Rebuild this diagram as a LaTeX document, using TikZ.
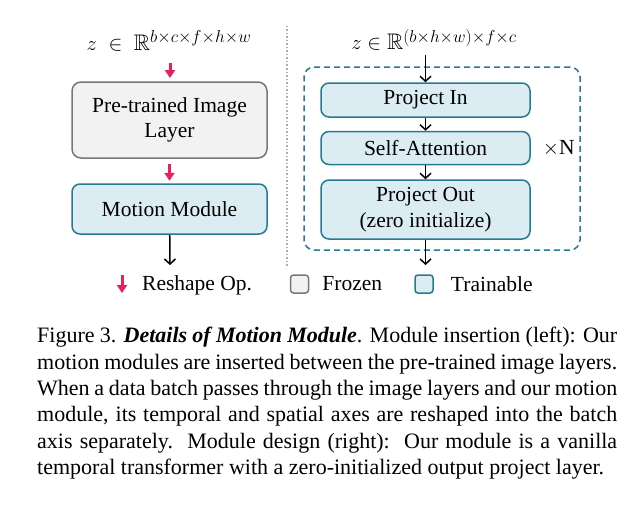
\documentclass[tikz,border=0pt]{standalone}
\usepackage{amsmath,amssymb}
\usepackage{fontspec}
\setmainfont{Liberation Serif}
\usetikzlibrary{arrows.meta,positioning,calc}
\DeclareMathSizes{22.5}{22.5}{17.5}{13}
\definecolor{frozenfill}{RGB}{242,242,242}
\definecolor{frozenline}{RGB}{120,120,120}
\definecolor{trainfill}{RGB}{219,237,243}
\definecolor{trainline}{RGB}{38,122,145}
\definecolor{reshapered}{RGB}{232,34,88}

\begin{document}
\begin{tikzpicture}[x=1pt, y=-1pt,
  frozen/.style={draw=frozenline, fill=frozenfill, line width=1.5pt, rounded corners=9pt,
                 align=center, font=\fontsize{21.5}{25.5}\selectfont},
  train/.style={draw=trainline, fill=trainfill, line width=1.5pt, rounded corners=8pt,
                align=center, font=\fontsize{21.5}{25.5}\selectfont},
  swatch/.style={draw=#1line, fill=#1fill, line width=1.5pt, rounded corners=3pt,
                 minimum size=18pt, inner sep=0pt},
  lbl/.style={font=\fontsize{21.5}{25.5}\selectfont, inner sep=0pt},
  dims/.style={font=\fontsize{22.5}{27}\selectfont, inner sep=0pt},
  reshape/.style={-{Triangle[length=8pt,width=10pt]}, reshapered, line width=3pt},
  arr/.style={-{Straight Barb[length=5pt,width=11pt]}, line width=1.5pt}
]
\useasboundingbox (0,0) rectangle (642,511);

% left: module insertion
\node[dims] (zl) at (169,41)
  {$z\;\in\;\mathbb{R}^{b\times c\times f\times h\times w}$};
\node[frozen, minimum width=195pt, minimum height=76pt] (pre) at (169.5,120)
  {Pre-trained Image\\Layer};
\node[train, minimum width=195pt, minimum height=50pt] (motion) at (169.5,209)
  {Motion Module};
\coordinate (outl) at (170,265);

\draw[reshape] (170,63) -- (170,78);
\draw[reshape] (pre.south) ++(0,5) -- ++(0,17);
\draw[arr] (motion) -- (outl);

% separator
\draw[frozenline!60, dotted, line width=1.5pt] (287,26) -- (287,267);

% right: module design
\node[dims] (zr) at (434,40)
  {$z\in\mathbb{R}^{(b\times h\times w)\times f\times c}$};
\node[draw=trainline, dash pattern=on 6pt off 4pt, line width=1.5pt, rounded corners=10pt,
      minimum width=276pt, minimum height=183pt] (design) at (442,158.5) {};
\node[train, minimum width=209pt, minimum height=34pt] (projin) at (425.5,100) {Project In};
\node[train, minimum width=209pt, minimum height=33pt, below=13pt of projin] (attn)
  {Self-Attention};
\node[train, minimum width=209pt, minimum height=59pt, below=14pt of attn] (projout)
  {Project Out\\(zero initialize)};
\node[lbl, right=12pt of attn] (times) {$\times$N};
\coordinate (inr) at (425.5,55);
\coordinate (outr) at (425.5,265);

\draw[arr] (inr) -- (projin);
\draw[arr] (projin) -- (attn);
\draw[arr] (attn) -- (projout);
\draw[arr] (projout) -- (outr);

% legend
\coordinate (rs1) at (122,275);
\coordinate (rs2) at (122,293);
\draw[reshape] (rs1) -- (rs2);
\node[lbl, anchor=west] (rslbl) at (142,285) {Reshape Op.};
\node[swatch=frozen] (frz) at (299.5,284) {};
\node[lbl, right=13pt of frz] (frzlbl) {Frozen};
\node[swatch=train] (trn) at (424,284) {};
\node[lbl, right=17pt of trn] (trnlbl) {Trainable};

% caption
\node[anchor=north west, inner sep=0pt, text width=580pt, align=justify,
      font=\fontsize{22}{26.4}\selectfont] (caption) at (37,327)
  {Figure 3. \textbf{\textit{Details of Motion Module}}. Module insertion (left): Our\linebreak
   motion modules are inserted between the pre-trained image layers.\linebreak
   When a data batch passes through the image layers and our motion\linebreak
   module, its temporal and spatial axes are reshaped into the batch\linebreak
   axis separately.\ \ Module design (right):\ \ Our module is a vanilla\linebreak
   temporal transformer with a zero-initialized output project layer.};
\end{tikzpicture}
\end{document}
